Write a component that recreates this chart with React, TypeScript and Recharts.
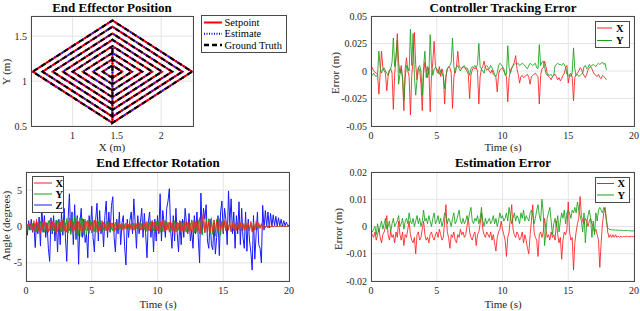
import React from "react";
import { LineChart, Line, XAxis, YAxis, CartesianGrid } from "recharts";

const FONT = '"Liberation Serif", "Times New Roman", serif';
const INK = "#262626";
const RED = "#ff1f1f";
const GREEN = "#17a017";
const BLUE = "#1a1aff";

// ---- End Effector Position: spiral path vertices (m)
const posX = [
  1.45,
  1.45, 1.56, 1.45, 1.34, 1.45,
  1.45, 1.67, 1.45, 1.23, 1.45,
  1.45, 1.785, 1.45, 1.115, 1.45,
  1.45, 1.9, 1.45, 1.0, 1.45,
  1.45, 2.01, 1.45, 0.89, 1.45,
  1.45, 2.125, 1.45, 0.775, 1.45,
  1.45, 2.24, 1.45, 0.66, 1.45,
  1.45, 2.35, 1.45, 0.55, 1.45,
];
const posY = [
  1.37,
  1.035, 1.105, 1.175, 1.105, 1.035,
  0.965, 1.105, 1.245, 1.105, 0.965,
  0.895, 1.105, 1.315, 1.105, 0.895,
  0.82, 1.105, 1.39, 1.105, 0.82,
  0.75, 1.105, 1.46, 1.105, 0.75,
  0.68, 1.105, 1.53, 1.105, 0.68,
  0.605, 1.105, 1.605, 1.105, 0.605,
  0.535, 1.105, 1.675, 1.105, 0.535,
];
const posXTicks = [1, 1.5, 2];
const posYTicks = [0.5, 1, 1.5];

// ---- Controller Tracking Error, one sample per 0.1 s (mm)
const trackErrX = [
  5, 3, 0, -1, -2, -3, -21, -2, 18, 3,
  0, -2, -18, -5, 1, 2, -2, -35, -3, 12,
  34, 8, -2, 5, -8, -36, 2, 12, 0, -5,
  -40, -4, 10, 35, 6, -8, 3, 1, -12, -36,
  -2, 8, 2, -6, 3, -37, -4, 8, 27, 5,
  0, -2, 4, -5, 2, -3, -30, -6, 2, 4,
  3, -2, -34, -6, 2, 4, 18, 4, 3, 2,
  4, 3, 2, 0, -3, -25, -4, 1, 3, 2,
  3, 0, -30, -5, 2, 4, 9, 3, 1, 2,
  0, -2, 1, -3, -4, -6, -19, -3, 1, 2,
  3, 0, -2, -5, -28, -6, 0, 3, 5, 8,
  14, 2, -3, -11, -5, -4, -6, -5, -4, -3,
  -6, -12, -5, -4, -3, -2, -4, -5, -30, -4,
  2, 3, 9, 4, -2, -5, -6, -8, -5, -4,
  -3, -5, -8, -6, -9, -7, -4, -2, 3, 5,
  -11, -4, -2, -5, -27, -6, -3, -2, 0, 3,
  2, -2, -4, -6, -3, 1, 3, 4, 2, -1,
  -3, -4, -5, -3, -6, -7, -4, -5, -6, -8,
];
const trackErrY = [
  -3, -4, -2, -4, -5, -3, 18, 3, -2, 2,
  3, 0, -2, -4, 0, 2, 8, 30, 4, 12,
  28, -12, -3, 2, -5, -27, -6, 5, 3, 0,
  38, 5, 34, -5, -22, -8, 3, 5, 0, -22,
  4, 18, -6, 4, -3, 33, 5, -4, 2, 3,
  2, 0, -3, 1, -2, -5, -16, -4, 2, 3,
  5, 8, 30, 4, -2, 3, 5, 2, 0, 3,
  4, 5, 2, 3, 0, -4, 2, 4, 3, 5,
  3, 6, 25, 4, 2, 0, -2, 4, 5, 3,
  2, 5, 3, 0, -3, -5, -2, 5, 7, 6,
  4, 2, -4, -3, 23, 3, -2, 2, 5, 6,
  7, 6, 7, 5, 6, 7, 6, 5, 3, 2,
  5, 7, 6, 5, 6, 7, 3, 2, 24, 5,
  8, 9, 4, -2, -4, -3, -4, -3, -5, -4,
  5, 6, 7, 6, 6, 5, 7, 6, 3, -3,
  -4, -3, -5, -2, 21, 2, -4, -3, -5, -4,
  -3, -2, 4, 5, 2, 3, 6, 4, 5, 6,
  5, 4, 6, 7, 6, 7, 8, 6, 7, 1,
];
const trackTicks = [-50, -25, 0, 25, 50];
const trackTickLabels = ["-0.05", "-0.025", "0", "0.025", "0.05"];

// ---- End Effector Rotation, one sample per 0.1 s (degrees)
const rotX = [
  0.2, -0.3, 0.4, -0.2, 0.5, -0.6, 0.8, -0.8, 1.0, -0.7,
  0.6, -0.9, 0.7, -0.5, 0.8, -0.6, 0.4, -0.8, 0.9, -0.5,
  0.7, -0.6, 0.5, -0.9, 0.8, -0.4, 0.6, -0.7, 0.9, -0.6,
  0.5, -0.8, 0.7, -0.6, 0.9, -0.7, 0.6, -0.5, 0.8, -0.9,
  0.7, -0.6, 0.5, -0.8, 0.6, -0.5, 0.7, -0.6, 0.8, -0.4,
  0.6, -0.7, 0.9, -0.5, 0.7, -0.8, 0.5, -0.6, 0.8, -0.5,
  0.4, -0.6, 0.7, -0.5, 0.6, -0.4, 0.5, -0.7, 0.6, -0.3,
  0.5, -0.4, 0.3, -0.5, 0.4, -0.3, 0.5, -0.4, 0.3, -0.5,
  0.4, -0.3, 0.5, -0.6, 0.4, -0.3, 0.6, -0.5, 0.4, -0.4,
  0.5, -0.6, 0.7, -0.5, 0.6, -0.7, 0.8, -0.6, 0.7, -0.5,
  0.6, -0.8, 0.7, -0.6, 0.9, -0.7, 0.8, -0.5, 0.6, -0.8,
  0.7, -0.6, 0.8, -0.9, 0.6, -0.7, 0.5, -0.8, 0.7, -0.6,
  0.8, -0.7, 0.6, -0.9, 0.7, -0.6, 0.9, -0.8, 0.6, -0.7,
  0.8, -0.6, 1.2, -1.0, 0.7, 2.0, -0.8, 0.6, -0.9, 0.7,
  -0.8, 0.6, -0.7, 0.9, -0.8, 0.7, -0.6, 0.8, -0.5, 0.6,
  -0.7, 0.8, -0.6, 0.7, -0.5, 0.6, -0.7, 0.5, -0.6, 0.4,
  -0.5, 0.6, -0.4, 0.5, -0.6, 0.4, -0.5, 0.6, -0.4, 0.5,
  -0.6, 0.7, -0.8, 0.6, -0.5, 0.7, -0.4, 0.5, -0.3, 0.4,
  -0.3, 0.3, -0.2, 0.2, -0.2, 0.2, -0.1, 0.1, -0.1, 0.1,
  0.0, 0.1, 0.0, 0.1, 0.0, 0.0, 0.1, 0.0, 0.0, 0.0, 0.0,
];
const rotY = [
  -0.2, 0.3, -0.4, 0.2, -0.5, 0.4, -0.6, 0.5, -0.7, 0.6,
  -0.5, 0.7, -0.6, 0.5, -0.8, 0.6, -0.7, 0.8, -0.6, 0.5,
  -0.7, 0.6, -0.8, 0.9, -0.7, 0.8, -0.9, 1.0, -0.8, 0.9,
  -1.0, 1.1, -0.9, 1.2, -1.1, 1.3, -1.2, 1.4, -1.0, 1.2,
  -1.3, 1.2, -1.4, 1.1, -1.2, 1.0, -1.1, 0.9, -1.0, 0.8,
  -0.9, 0.8, -0.7, 0.9, -0.8, 0.7, -0.6, 0.8, -0.7, 0.6,
  -0.6, 0.7, -0.5, 0.6, -0.7, 0.5, -0.6, 0.4, -0.5, 0.6,
  -0.4, 0.5, -0.3, 0.4, -0.5, 0.3, -0.4, 0.5, -0.3, 0.4,
  -0.4, 0.3, -0.5, 0.4, -0.3, 0.5, -0.4, 0.6, -0.5, 0.4,
  -0.5, 0.6, -0.7, 0.5, -0.6, 0.7, -0.5, 0.6, -0.8, 0.7,
  -0.6, 0.7, -0.8, 0.6, -0.7, 0.8, -0.6, 0.7, -0.5, 0.6,
  -0.7, 0.5, -0.6, 0.8, -0.7, 0.6, -0.5, 0.7, -0.6, 0.5,
  -0.6, 0.7, -0.8, 0.6, -0.7, 0.5, -0.6, 0.8, -0.9, 0.7,
  -0.8, 0.9, -1.0, 0.8, -1.2, 0.7, -0.9, 1.0, -0.8, 1.1,
  -1.0, 1.2, -1.1, 0.9, -1.3, 1.0, -0.9, 1.1, -1.2, 0.8,
  -0.7, 0.8, -0.6, 0.7, -0.5, 0.6, -0.7, 0.5, -0.6, 0.4,
  -0.5, 0.6, -0.4, 0.5, -0.6, 0.4, -0.5, 0.6, -0.4, 0.5,
  -0.4, 0.5, -0.6, 0.4, -0.5, 0.3, -0.4, 0.3, -0.2, 0.3,
  -0.2, 0.2, -0.1, 0.2, -0.1, 0.1, -0.1, 0.1, 0.0, 0.1,
  0.0, 0.1, 0.0, 0.0, 0.1, 0.0, 0.0, 0.0, 0.0, 0.0, 0.0,
];
const rotZ = [
  0.5, -1.2, 0.8, -0.5, 1.0, -0.8, 0.4, -2.9, 0.6, -1.0,
  1.3, -2.7, 2.9, -0.8, 1.5, -1.5, 0.5, -3.0, -4.8, 1.2,
  -1.0, 1.5, -2.0, 0.8, -3.5, 1.0, -2.5, 2.0, -1.2, 2.5,
  -1.5, -4.8, 1.0, 4.5, -1.0, 2.0, -2.5, 3.0, -1.8, 1.5,
  -5.2, 0.5, 2.5, -1.5, 1.0, -2.2, -1.0, -4.3, 1.5, -0.5,
  2.8, -1.5, -3.5, 1.0, 3.2, -2.0, 2.2, -1.0, 0.5, -2.8,
  1.5, 3.5, -1.5, 2.0, -0.8, 2.9, 4.1, -1.5, -3.5, 1.0,
  -1.0, 2.0, -2.5, 0.5, 1.5, -2.8, -5.3, 1.0, -1.5, 0.8,
  2.0, -1.0, 3.8, 0.5, -3.0, 1.5, -1.0, 0.5, 2.5, -1.5,
  1.8, -1.0, -4.3, 0.5, 2.0, -1.5, 0.8, -3.5, 1.0, -2.0,
  1.5, -1.0, 4.5, -2.0, 2.2, 0.5, -1.5, 2.5, 3.5, 5.2,
  -0.5, -3.0, 1.5, -2.0, 2.5, -1.0, -3.5, 0.8, -2.5, 1.0,
  -1.5, 2.5, 0.5, -1.0, 1.8, -2.0, -0.5, -3.0, 1.5, -1.0,
  2.0, -1.5, -5.0, 4.6, -1.0, 2.5, 1.0, 3.0, -2.0, -3.0,
  1.0, -2.5, -3.2, 0.5, -3.8, -1.5, 1.5, -4.0, 2.0, 3.5,
  -1.0, 2.5, 1.0, -2.5, 4.9, 0.5, 3.8, -1.0, 2.0, -3.0,
  1.5, -1.0, 3.4, -2.5, 2.5, -1.5, -3.0, 2.0, -3.4, 1.0,
  -2.0, -3.5, -6.0, 1.5, -4.5, -1.0, 2.0, -2.5, -3.0, -5.0,
  2.9, -0.5, 2.2, 0.0, 2.0, -0.2, 1.8, 0.0, 1.6, 0.1,
  1.4, 0.0, 1.2, 0.1, 1.0, 0.0, 0.8, 0.1, 0.6, 0.1, 0.2,
];
const rotTicks = [-5, 0, 5];

// ---- Estimation Error, one sample per 0.1 s (mm)
const estErrX = [
  -2, -3, -4, -2, -5, -3, -1, -4, -6, -3,
  -2, 0, 4, -3, -5, -2, -4, -3, -6, -2,
  -4, 2, -3, -5, -2, -7, -3, -4, -1, 2,
  -3, -5, -6, -4, -10, -3, -2, -5, -4, -1,
  2, -3, -5, -4, -6, -3, -2, -4, -5, -3,
  -2, -4, -1, -3, -5, -4, 2, 8, -2, -4,
  -8, -3, -4, -2, -5, -6, -3, -4, -1, -3,
  -2, -4, -3, 0, 3, -2, -4, -5, -3, -2,
  -7, -3, -2, 1, 5, -1, -3, -4, -2, -3,
  -4, -2, -5, -3, -6, -9, -4, -2, -1, 2,
  -1, -3, -5, -11, -4, -2, 3, 8, -1, -3,
  -4, -2, -3, -5, -4, -2, -6, -3, -5, -8,
  -10, -3, 2, 8, -2, -4, -5, -11, -3, -2,
  -4, -2, 3, -1, -4, -3, -5, -2, -4, -3,
  -5, 2, -3, -6, -4, -12, -5, -2, -3, -1,
  9, -2, -5, -4, -16, -6, -2, 1, 3, 11,
  4, 2, 1, 3, 2, 0, 2, 3, 1, 0,
  -2, -1, -3, -5, -15, -6, 1, 5, 7, 3,
  -2, -4, -3, -4, -3, -4, -3, -4, -3.5, -4,
  -3.5, -4, -3.5, -3.8, -3.5, -3.8, -3.6, -3.8, -3.6, -3.7, -3.7,
];
const estErrY = [
  -1, -2, -1, 0, -3, 1, -2, 0, 2, -1,
  1, 3, -1, 0, 2, -2, 1, 3, 0, 1,
  2, 4, 0, 1, 3, -1, 2, 3, 1, 5,
  2, 1, 3, 0, 2, 4, 1, 3, 0, 2,
  6, 2, 3, 1, 4, 2, 0, 3, 5, 1,
  2, 4, 1, 3, 0, 2, 5, 4, 1, 3,
  2, 0, 3, 5, 1, 2, 4, 6, 2, 1,
  3, 1, 2, 4, 2, 5, 7, 2, 1, 3,
  2, 4, 1, 3, 7, 2, 0, 3, 1, 2,
  3, 1, 2, 4, 1, 3, 0, 2, 5, 3,
  4, 2, 3, 5, 2, 7, 4, 1, 3, 5,
  2, 4, 3, 1, 5, 3, 6, 2, 4, 3,
  2, 5, 6, 4, 1, 3, 6, 8, 4, 2,
  10, 5, -7, -2, 3, 5, 7, 2, -3, 1,
  3, 0, 4, -2, 2, 5, 3, 6, 1, 5,
  6, 5, 3, 6, 5, 7, 5, 9, 6, 4,
  2, -2, 5, -6, 1, 4, 6, 3, -4, 2,
  -3, 5, 2, 6, 7, 6, 5, 7, 6, 2,
  -0.5, -1, -1.1, -1.2, -1.2, -1.3, -1.3, -1.3, -1.4, -1.4,
  -1.4, -1.4, -1.5, -1.5, -1.5, -1.5, -1.5, -1.6, -1.6, -1.6, -1.6,
];
const estTicks = [-20, -10, 0, 10, 20];
const estTickLabels = ["-0.02", "-0.01", "0", "0.01", "0.02"];

const timeTicks = [0, 5, 10, 15, 20];
const SAMPLE_DT = 0.1;

const posRows = posX.map((x, i) => ({ x, y: posY[i] }));
const trackRows = trackErrX.map((x, i) => ({ t: i * SAMPLE_DT, x, y: trackErrY[i] }));
const rotRows = rotX.map((x, i) => ({ t: i * SAMPLE_DT, x, y: rotY[i], z: rotZ[i] }));
const estRows = estErrX.map((x, i) => ({ t: i * SAMPLE_DT, x, y: estErrY[i] }));

type Box = { l: number; t: number; r: number; b: number };
const BOX1: Box = { l: 31, t: 16, r: 193, b: 126 };
const BOX2: Box = { l: 371, t: 16, r: 634, b: 126 };
const BOX3: Box = { l: 26, t: 172, r: 289, b: 281 };
const BOX4: Box = { l: 371, t: 172, r: 634, b: 281 };

const tickStyle = { fontSize: 10, fill: INK, fontFamily: FONT, style: { fontFamily: FONT } };

function Panel(props: {
  box: Box;
  data: any[];
  xKey: string;
  xDomain: [number, number];
  xTicks: number[];
  yDomain: [number, number];
  yTicks: number[];
  yLabels?: string[];
  children: React.ReactNode;
}) {
  const { box, data, xKey, xDomain, xTicks, yDomain, yTicks, yLabels, children } = props;
  return (
    <>
      <div style={{ position: "absolute", left: 0, top: 0, fontFamily: FONT }}>
        <LineChart
          width={640}
          height={311}
          data={data}
          style={{ fontFamily: FONT }}
          margin={{ top: box.t, left: box.l - 20, right: 640 - box.r, bottom: 311 - box.b - 20 }}
        >
          <CartesianGrid stroke="#e4e4e4" />
          <XAxis
            type="number"
            dataKey={xKey}
            domain={xDomain}
            ticks={xTicks}
            allowDataOverflow
            interval={0}
            height={20}
            tickSize={0}
            tickMargin={6}
            axisLine={false}
            tick={tickStyle}
          />
          <YAxis
            type="number"
            domain={yDomain}
            ticks={yTicks}
            allowDataOverflow
            interval={0}
            width={20}
            tickSize={0}
            tickMargin={4}
            axisLine={false}
            tick={tickStyle}
            tickFormatter={(v: number, i: number) => (yLabels ? yLabels[i] : String(v))}
          />
          {children}
        </LineChart>
      </div>
      <div
        style={{
          position: "absolute",
          left: box.l,
          top: box.t,
          width: box.r - box.l + 1,
          height: box.b - box.t + 1,
          border: "1px solid #4a4a4a",
          boxSizing: "border-box",
          pointerEvents: "none",
        }}
      />
    </>
  );
}

function Label(props: { x: number; y: number; text: string; size: number; bold?: boolean; rotate?: boolean }) {
  const { x, y, text, size, bold, rotate } = props;
  return (
    <div
      style={{
        position: "absolute",
        left: x,
        top: y,
        transform: `translate(-50%, -50%)${rotate ? " rotate(-90deg)" : ""}`,
        fontFamily: FONT,
        fontSize: size,
        fontWeight: bold ? "bold" : "normal",
        lineHeight: 1,
        whiteSpace: "nowrap",
        color: bold ? "#000" : INK,
      }}
    >
      {text}
    </div>
  );
}

type LegendEntry = { label: string; color: string; dash?: string; width: number };

function LegendBox(props: {
  left: number;
  top: number;
  width: number;
  height: number;
  rows: number[];
  lineX: [number, number];
  textX: number;
  bold?: boolean;
  items: LegendEntry[];
}) {
  const { left, top, width, height, rows, lineX, textX, bold, items } = props;
  return (
    <svg style={{ position: "absolute", left, top }} width={width} height={height}>
      <rect x={0.5} y={0.5} width={width - 1} height={height - 1} fill="#fff" stroke="#4a4a4a" />
      {items.map((it, i) => (
        <g key={it.label}>
          <line
            x1={lineX[0]}
            x2={lineX[1]}
            y1={rows[i]}
            y2={rows[i]}
            stroke={it.color}
            strokeWidth={it.width}
            strokeDasharray={it.dash}
          />
          <text
            x={textX}
            y={rows[i]}
            dominantBaseline="central"
            style={{ fontFamily: FONT }}
            fontSize={10.5}
            fontWeight={bold ? "bold" : "normal"}
            fill="#000"
          >
            {it.label}
          </text>
        </g>
      ))}
    </svg>
  );
}

export default function App() {
  return (
    <div style={{ position: "absolute", left: 0, top: 0, width: 640, height: 311, background: "#fff", fontFamily: FONT }}>
      {/* End Effector Position */}
      <Panel box={BOX1} data={posRows} xKey="x" xDomain={[0.53, 2.36]} xTicks={posXTicks} yDomain={[0.5, 1.725]} yTicks={posYTicks}>
        <Line type="linear" dataKey="y" stroke="#ff0000" strokeWidth={2} dot={false} isAnimationActive={false} />
        <Line type="linear" dataKey="y" stroke="#0000ff" strokeWidth={2} strokeDasharray="1 2" dot={false} isAnimationActive={false} />
        <Line type="linear" dataKey="y" stroke="#000000" strokeWidth={2} strokeDasharray="5 4" dot={false} isAnimationActive={false} />
      </Panel>

      {/* Controller Tracking Error */}
      <Panel box={BOX2} data={trackRows} xKey="t" xDomain={[0, 20]} xTicks={timeTicks} yDomain={[-50, 50]} yTicks={trackTicks} yLabels={trackTickLabels}>
        <Line type="linear" dataKey="x" stroke={RED} strokeOpacity={0.85} strokeWidth={1} dot={false} isAnimationActive={false} />
        <Line type="linear" dataKey="y" stroke={GREEN} strokeOpacity={0.85} strokeWidth={1} dot={false} isAnimationActive={false} />
      </Panel>

      {/* End Effector Rotation */}
      <Panel box={BOX3} data={rotRows} xKey="t" xDomain={[0, 20]} xTicks={timeTicks} yDomain={[-7.5, 7.5]} yTicks={rotTicks}>
        <Line type="linear" dataKey="z" stroke={BLUE} strokeWidth={1} dot={false} isAnimationActive={false} />
        <Line type="linear" dataKey="y" stroke={GREEN} strokeOpacity={0.85} strokeWidth={1} dot={false} isAnimationActive={false} />
        <Line type="linear" dataKey="x" stroke={RED} strokeOpacity={0.85} strokeWidth={1} dot={false} isAnimationActive={false} />
      </Panel>

      {/* Estimation Error */}
      <Panel box={BOX4} data={estRows} xKey="t" xDomain={[0, 20]} xTicks={timeTicks} yDomain={[-20, 20]} yTicks={estTicks} yLabels={estTickLabels}>
        <Line type="linear" dataKey="x" stroke={RED} strokeOpacity={0.85} strokeWidth={1} dot={false} isAnimationActive={false} />
        <Line type="linear" dataKey="y" stroke={GREEN} strokeOpacity={0.85} strokeWidth={1} dot={false} isAnimationActive={false} />
      </Panel>

      <Label x={112} y={6.5} text="End Effector Position" size={13} bold />
      <Label x={503} y={6.5} text="Controller Tracking Error" size={13} bold />
      <Label x={158} y={161.5} text="End Effector Rotation" size={13} bold />
      <Label x={503} y={161.5} text="Estimation Error" size={13} bold />

      <Label x={112} y={146.5} text="X (m)" size={11} />
      <Label x={503} y={146.5} text="Time (s)" size={11} />
      <Label x={158} y={303.5} text="Time (s)" size={11} />
      <Label x={503} y={303.5} text="Time (s)" size={11} />

      <Label x={6} y={72} text="Y (m)" size={11} rotate />
      <Label x={335} y={73} text="Error (m)" size={11} rotate />
      <Label x={6} y={226} text="Angle (degrees)" size={11} rotate />
      <Label x={337.5} y={229} text="Error (m)" size={11} rotate />

      <LegendBox
        left={201}
        top={15}
        width={86}
        height={38}
        rows={[7.5, 18.8, 30]}
        lineX={[3, 21]}
        textX={23.5}
        items={[
          { label: "Setpoint", color: "#ff0000", width: 2 },
          { label: "Estimate", color: "#0000ff", width: 2, dash: "1 1.5" },
          { label: "Ground Truth", color: "#000000", width: 2.5, dash: "5 3" },
        ]}
      />
      <LegendBox
        left={595}
        top={21}
        width={35}
        height={27}
        rows={[7, 19.5]}
        lineX={[2, 17]}
        textX={21}
        bold
        items={[
          { label: "X", color: RED, width: 1 },
          { label: "Y", color: GREEN, width: 1 },
        ]}
      />
      <LegendBox
        left={32}
        top={176}
        width={32}
        height={37}
        rows={[7, 18, 29]}
        lineX={[2, 20]}
        textX={23.5}
        bold
        items={[
          { label: "X", color: RED, width: 1 },
          { label: "Y", color: GREEN, width: 1 },
          { label: "Z", color: BLUE, width: 1 },
        ]}
      />
      <LegendBox
        left={595}
        top={177}
        width={35}
        height={26}
        rows={[6.5, 18]}
        lineX={[2, 19]}
        textX={22.5}
        bold
        items={[
          { label: "X", color: RED, width: 1 },
          { label: "Y", color: GREEN, width: 1 },
        ]}
      />
    </div>
  );
}
